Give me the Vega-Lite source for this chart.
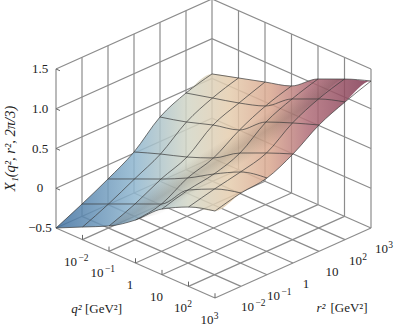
{"$schema":"https://vega.github.io/schema/vega-lite/v6.json","width":395,"height":331,"padding":0,"autosize":{"type":"none"},"background":"white","config":{"view":{"stroke":null}},
"datasets":{
"surface":[
{"q":-3,"r":-3,"X":-0.5},{"q":-2,"r":-3,"X":-0.341},{"q":-1,"r":-3,"X":-0.181},{"q":0,"r":-3,"X":0.041},{"q":1,"r":-3,"X":0.326},{"q":2,"r":-3,"X":0.498},{"q":3,"r":-3,"X":0.594},
{"q":-3,"r":-2,"X":-0.345},{"q":-2,"r":-2,"X":-0.198},{"q":-1,"r":-2,"X":-0.051},{"q":0,"r":-2,"X":0.095},{"q":1,"r":-2,"X":0.418},{"q":2,"r":-2,"X":0.578},{"q":3,"r":-2,"X":0.674},
{"q":-3,"r":-1,"X":-0.177},{"q":-2,"r":-1,"X":-0.03},{"q":-1,"r":-1,"X":0.116},{"q":0,"r":-1,"X":0.276},{"q":1,"r":-1,"X":0.473},{"q":2,"r":-1,"X":0.645},{"q":3,"r":-1,"X":0.716},
{"q":-3,"r":0,"X":0.016},{"q":-2,"r":0,"X":0.137},{"q":-1,"r":0,"X":0.246},{"q":0,"r":0,"X":0.381},{"q":1,"r":0,"X":0.59},{"q":2,"r":0,"X":0.737},{"q":3,"r":0,"X":0.871},
{"q":-3,"r":1,"X":0.309},{"q":-2,"r":1,"X":0.393},{"q":-1,"r":1,"X":0.502},{"q":0,"r":1,"X":0.586},{"q":1,"r":1,"X":0.833},{"q":2,"r":1,"X":0.968},{"q":3,"r":1,"X":1.089},
{"q":-3,"r":2,"X":0.464},{"q":-2,"r":2,"X":0.548},{"q":-1,"r":2,"X":0.632},{"q":0,"r":2,"X":0.741},{"q":1,"r":2,"X":0.976},{"q":2,"r":2,"X":1.123},{"q":3,"r":2,"X":1.232},
{"q":-3,"r":3,"X":0.557},{"q":-2,"r":3,"X":0.653},{"q":-1,"r":3,"X":0.749},{"q":0,"r":3,"X":0.846},{"q":1,"r":3,"X":1.081},{"q":2,"r":3,"X":1.227},{"q":3,"r":3,"X":1.349}],
"frame":[
{"l":"a0","o":0,"q":-3,"r":-3,"z":-0.5},{"l":"a0","o":1,"q":-3,"r":-3,"z":1.5},{"l":"a1","o":0,"q":-3,"r":-2,"z":-0.5},{"l":"a1","o":1,"q":-3,"r":-2,"z":1.5},{"l":"a2","o":0,"q":-3,"r":-1,"z":-0.5},{"l":"a2","o":1,"q":-3,"r":-1,"z":1.5},{"l":"a3","o":0,"q":-3,"r":0,"z":-0.5},{"l":"a3","o":1,"q":-3,"r":0,"z":1.5},{"l":"a4","o":0,"q":-3,"r":1,"z":-0.5},{"l":"a4","o":1,"q":-3,"r":1,"z":1.5},{"l":"a5","o":0,"q":-3,"r":2,"z":-0.5},{"l":"a5","o":1,"q":-3,"r":2,"z":1.5},{"l":"a6","o":0,"q":-3,"r":3,"z":-0.5},{"l":"a6","o":1,"q":-3,"r":3,"z":1.5},
{"l":"b1","o":0,"q":-2,"r":3,"z":-0.5},{"l":"b1","o":1,"q":-2,"r":3,"z":1.5},{"l":"b2","o":0,"q":-1,"r":3,"z":-0.5},{"l":"b2","o":1,"q":-1,"r":3,"z":1.5},{"l":"b3","o":0,"q":0,"r":3,"z":-0.5},{"l":"b3","o":1,"q":0,"r":3,"z":1.5},{"l":"b4","o":0,"q":1,"r":3,"z":-0.5},{"l":"b4","o":1,"q":1,"r":3,"z":1.5},{"l":"b5","o":0,"q":2,"r":3,"z":-0.5},{"l":"b5","o":1,"q":2,"r":3,"z":1.5},{"l":"b6","o":0,"q":3,"r":3,"z":-0.5},{"l":"b6","o":1,"q":3,"r":3,"z":1.5},
{"l":"c0","o":0,"q":-3,"r":-3,"z":0},{"l":"c0","o":1,"q":-3,"r":3,"z":0},{"l":"c0","o":2,"q":3,"r":3,"z":0},
{"l":"c1","o":0,"q":-3,"r":-3,"z":0.5},{"l":"c1","o":1,"q":-3,"r":3,"z":0.5},{"l":"c1","o":2,"q":3,"r":3,"z":0.5},
{"l":"c2","o":0,"q":-3,"r":-3,"z":1},{"l":"c2","o":1,"q":-3,"r":3,"z":1},{"l":"c2","o":2,"q":3,"r":3,"z":1},
{"l":"c3","o":0,"q":-3,"r":-3,"z":1.5},{"l":"c3","o":1,"q":-3,"r":3,"z":1.5},{"l":"c3","o":2,"q":3,"r":3,"z":1.5},
{"l":"d0","o":0,"q":-3,"r":-3,"z":-0.5},{"l":"d0","o":1,"q":3,"r":-3,"z":-0.5},{"l":"d1","o":0,"q":-3,"r":-2,"z":-0.5},{"l":"d1","o":1,"q":3,"r":-2,"z":-0.5},{"l":"d2","o":0,"q":-3,"r":-1,"z":-0.5},{"l":"d2","o":1,"q":3,"r":-1,"z":-0.5},{"l":"d3","o":0,"q":-3,"r":0,"z":-0.5},{"l":"d3","o":1,"q":3,"r":0,"z":-0.5},{"l":"d4","o":0,"q":-3,"r":1,"z":-0.5},{"l":"d4","o":1,"q":3,"r":1,"z":-0.5},{"l":"d5","o":0,"q":-3,"r":2,"z":-0.5},{"l":"d5","o":1,"q":3,"r":2,"z":-0.5},{"l":"d6","o":0,"q":-3,"r":3,"z":-0.5},{"l":"d6","o":1,"q":3,"r":3,"z":-0.5},
{"l":"e0","o":0,"q":-3,"r":-3,"z":-0.5},{"l":"e0","o":1,"q":-3,"r":3,"z":-0.5},{"l":"e1","o":0,"q":-2,"r":-3,"z":-0.5},{"l":"e1","o":1,"q":-2,"r":3,"z":-0.5},{"l":"e2","o":0,"q":-1,"r":-3,"z":-0.5},{"l":"e2","o":1,"q":-1,"r":3,"z":-0.5},{"l":"e3","o":0,"q":0,"r":-3,"z":-0.5},{"l":"e3","o":1,"q":0,"r":3,"z":-0.5},{"l":"e4","o":0,"q":1,"r":-3,"z":-0.5},{"l":"e4","o":1,"q":1,"r":3,"z":-0.5},{"l":"e5","o":0,"q":2,"r":-3,"z":-0.5},{"l":"e5","o":1,"q":2,"r":3,"z":-0.5},{"l":"e6","o":0,"q":3,"r":-3,"z":-0.5},{"l":"e6","o":1,"q":3,"r":3,"z":-0.5}],
"ticks":[
{"l":"t0","o":0,"q":-3,"r":-3,"z":0},{"l":"t0","o":1,"q":-2.85,"r":-3,"z":0},{"l":"t1","o":0,"q":-3,"r":-3,"z":0.5},{"l":"t1","o":1,"q":-2.85,"r":-3,"z":0.5},{"l":"t2","o":0,"q":-3,"r":-3,"z":1},{"l":"t2","o":1,"q":-2.85,"r":-3,"z":1},{"l":"t3","o":0,"q":-3,"r":-3,"z":1.5},{"l":"t3","o":1,"q":-2.85,"r":-3,"z":1.5},
{"l":"u1","o":0,"q":-2,"r":-3,"z":-0.5},{"l":"u1","o":1,"q":-2,"r":-3,"z":-0.44},{"l":"u2","o":0,"q":-1,"r":-3,"z":-0.5},{"l":"u2","o":1,"q":-1,"r":-3,"z":-0.44},{"l":"u3","o":0,"q":0,"r":-3,"z":-0.5},{"l":"u3","o":1,"q":0,"r":-3,"z":-0.44},{"l":"u4","o":0,"q":1,"r":-3,"z":-0.5},{"l":"u4","o":1,"q":1,"r":-3,"z":-0.44},{"l":"u5","o":0,"q":2,"r":-3,"z":-0.5},{"l":"u5","o":1,"q":2,"r":-3,"z":-0.44},{"l":"u6","o":0,"q":3,"r":-3,"z":-0.5},{"l":"u6","o":1,"q":3,"r":-3,"z":-0.44}],
"zlabels":[{"t":"−0.5","z":-0.5},{"t":"0","z":0},{"t":"0.5","z":0.5},{"t":"1.0","z":1},{"t":"1.5","z":1.5}],
"tlabels":[{"t":"10","e":"−2","v":-2},{"t":"10","e":"−1","v":-1},{"t":"1","e":"","v":0},{"t":"10","e":"","v":1},{"t":"10","e":"2","v":2},{"t":"10","e":"3","v":3}]
},
"encoding":{
"x":{"field":"sx","type":"quantitative","axis":null,"scale":{"domain":[0,395]}},
"y":{"field":"sy","type":"quantitative","axis":null,"scale":{"domain":[331,0]}}
},
"layer":[
{"data":{"name":"frame"},"transform":[{"calculate":"56+26.5*(datum.q+3)+26*(datum.r+3)","as":"sx"},{"calculate":"228+11.67*(datum.q-datum.r)-79.5*(datum.z+0.5)","as":"sy"}],
"mark":{"type":"line","stroke":"#8c8c8c","strokeWidth":1.2},"encoding":{"detail":{"field":"l"},"order":{"field":"o","type":"quantitative"}}},
{"data":{"name":"ticks"},"transform":[{"calculate":"56+26.5*(datum.q+3)+26*(datum.r+3)","as":"sx"},{"calculate":"228+11.67*(datum.q-datum.r)-79.5*(datum.z+0.5)","as":"sy"}],
"mark":{"type":"line","stroke":"#666666","strokeWidth":1},"encoding":{"detail":{"field":"l"},"order":{"field":"o","type":"quantitative"}}},
{"data":{"name":"surface"},"transform":[{"filter":"abs(datum.q)==3||abs(datum.r)==3"},{"calculate":"56+26.5*(datum.q+3)+26*(datum.r+3)","as":"sx"},{"calculate":"228+11.67*(datum.q-datum.r)-79.5*(datum.X+0.5)","as":"sy"},{"calculate":"datum.q==-3?datum.r+3:datum.r==3?6+datum.q+3:datum.q==3?12+3-datum.r:18+3-datum.q","as":"b"}],
"mark":{"type":"line","interpolate":"monotone","strokeWidth":0,"fillOpacity":0.85,"fill":{"gradient":"linear","x1":0,"y1":0,"x2":1,"y2":0,"stops":[{"offset":0,"color":"#3f6f9f"},{"offset":0.25,"color":"#8fb6cf"},{"offset":0.42,"color":"#d3d6c6"},{"offset":0.55,"color":"#e5cdae"},{"offset":0.68,"color":"#d9a78f"},{"offset":0.8,"color":"#b06d78"},{"offset":1,"color":"#7d3550"}]}},
"encoding":{"order":{"field":"b","type":"quantitative"}}},
{"data":{"name":"surface"},"transform":[{"filter":"(datum.q==-1||datum.q==2)"},{"calculate":"56+26.5*(datum.q+3)+26*(datum.r+3)","as":"sx"},{"calculate":"228+11.67*(datum.q-datum.r)-79.5*(datum.X+0.5)","as":"sy"},{"calculate":"datum.q==-1?datum.r:10-datum.r","as":"b"}],
"mark":{"type":"line","interpolate":"monotone","strokeWidth":0,"fill":{"gradient":"linear","x1":0,"y1":0,"x2":1,"y2":1,"stops":[{"offset":0.45,"color":"rgba(70,60,50,0)"},{"offset":0.51,"color":"rgba(70,60,50,0.2)"},{"offset":0.57,"color":"rgba(70,60,50,0)"}]}},
"encoding":{"order":{"field":"b","type":"quantitative"}}},
{"data":{"name":"surface"},"transform":[{"calculate":"56+26.5*(datum.q+3)+26*(datum.r+3)","as":"sx"},{"calculate":"228+11.67*(datum.q-datum.r)-79.5*(datum.X+0.5)","as":"sy"}],
"mark":{"type":"line","interpolate":"monotone","stroke":"#3a3a3a","strokeWidth":0.7},"encoding":{"detail":{"field":"q"},"order":{"field":"r","type":"quantitative"}}},
{"data":{"name":"surface"},"transform":[{"calculate":"56+26.5*(datum.q+3)+26*(datum.r+3)","as":"sx"},{"calculate":"228+11.67*(datum.q-datum.r)-79.5*(datum.X+0.5)","as":"sy"}],
"mark":{"type":"line","interpolate":"monotone","stroke":"#3a3a3a","strokeWidth":0.7},"encoding":{"detail":{"field":"r"},"order":{"field":"q","type":"quantitative"}}},
{"data":{"name":"zlabels"},"transform":[{"calculate":"40","as":"sx"},{"calculate":"228-79.5*(datum.z+0.5)","as":"sy"}],
"mark":{"type":"text","font":"Liberation Serif","fontSize":13,"fill":"#222222","align":"center","baseline":"middle"},"encoding":{"text":{"field":"t"}}},
{"data":{"name":"tlabels"},"transform":[{"calculate":"56+26.5*(datum.v+3)+(datum.e==''?0:(length(datum.e)>1?-6.5:-2.5))","as":"sx"},{"calculate":"228+11.67*(datum.v+3)","as":"sy"}],
"mark":{"type":"text","font":"Liberation Serif","fontSize":13,"fill":"#222222","align":"center","baseline":"middle","dx":-5.5,"dy":22},"encoding":{"text":{"field":"t"}}},
{"data":{"name":"tlabels"},"transform":[{"filter":"datum.e!=''"},{"calculate":"56+26.5*(datum.v+3)+6.5","as":"sx"},{"calculate":"228+11.67*(datum.v+3)","as":"sy"}],
"mark":{"type":"text","font":"Liberation Serif","fontSize":9.5,"fill":"#222222","align":"center","baseline":"middle","dx":-5.5,"dy":18},"encoding":{"text":{"field":"e"}}},
{"data":{"name":"tlabels"},"transform":[{"calculate":"215+26*(datum.v+3)+(datum.e==''?0:(length(datum.e)>1?-6.5:-2.5))","as":"sx"},{"calculate":"298-11.67*(datum.v+3)","as":"sy"}],
"mark":{"type":"text","font":"Liberation Serif","fontSize":13,"fill":"#222222","align":"center","baseline":"middle","dx":13,"dy":21},"encoding":{"text":{"field":"t"}}},
{"data":{"name":"tlabels"},"transform":[{"filter":"datum.e!=''"},{"calculate":"215+26*(datum.v+3)+6.5","as":"sx"},{"calculate":"298-11.67*(datum.v+3)","as":"sy"}],
"mark":{"type":"text","font":"Liberation Serif","fontSize":9.5,"fill":"#222222","align":"center","baseline":"middle","dx":13,"dy":17},"encoding":{"text":{"field":"e"}}},
{"data":{"values":[{"t":"q²","q":0}]},"transform":[{"calculate":"56+26.5*(datum.q+3)","as":"sx"},{"calculate":"228+11.67*(datum.q+3)","as":"sy"}],
"mark":{"type":"text","font":"Liberation Serif","fontStyle":"italic","fontSize":13,"fill":"#222222","align":"center","baseline":"middle","dx":-59,"dy":46},"encoding":{"text":{"field":"t"}}},
{"data":{"values":[{"t":"[GeV²]","q":0}]},"transform":[{"calculate":"56+26.5*(datum.q+3)","as":"sx"},{"calculate":"228+11.67*(datum.q+3)","as":"sy"}],
"mark":{"type":"text","font":"Liberation Serif","fontSize":13,"fill":"#222222","align":"center","baseline":"middle","dx":-32,"dy":46},"encoding":{"text":{"field":"t"}}},
{"data":{"values":[{"t":"r²","r":0}]},"transform":[{"calculate":"215+26*(datum.r+3)","as":"sx"},{"calculate":"298-11.67*(datum.r+3)","as":"sy"}],
"mark":{"type":"text","font":"Liberation Serif","fontStyle":"italic","fontSize":13,"fill":"#222222","align":"center","baseline":"middle","dx":28,"dy":45},"encoding":{"text":{"field":"t"}}},
{"data":{"values":[{"t":"[GeV²]","r":0}]},"transform":[{"calculate":"215+26*(datum.r+3)","as":"sx"},{"calculate":"298-11.67*(datum.r+3)","as":"sy"}],
"mark":{"type":"text","font":"Liberation Serif","fontSize":13,"fill":"#222222","align":"center","baseline":"middle","dx":56,"dy":45},"encoding":{"text":{"field":"t"}}},
{"data":{"values":[{"t":"X₁(q², r², 2π/3)","z":0.5}]},"transform":[{"calculate":"56","as":"sx"},{"calculate":"228-79.5*(datum.z+0.5)","as":"sy"}],
"mark":{"type":"text","font":"Liberation Serif","fontStyle":"italic","fontSize":14.5,"fill":"#222222","align":"center","baseline":"middle","angle":270,"dy":-45},"encoding":{"text":{"field":"t"}}}
]}
